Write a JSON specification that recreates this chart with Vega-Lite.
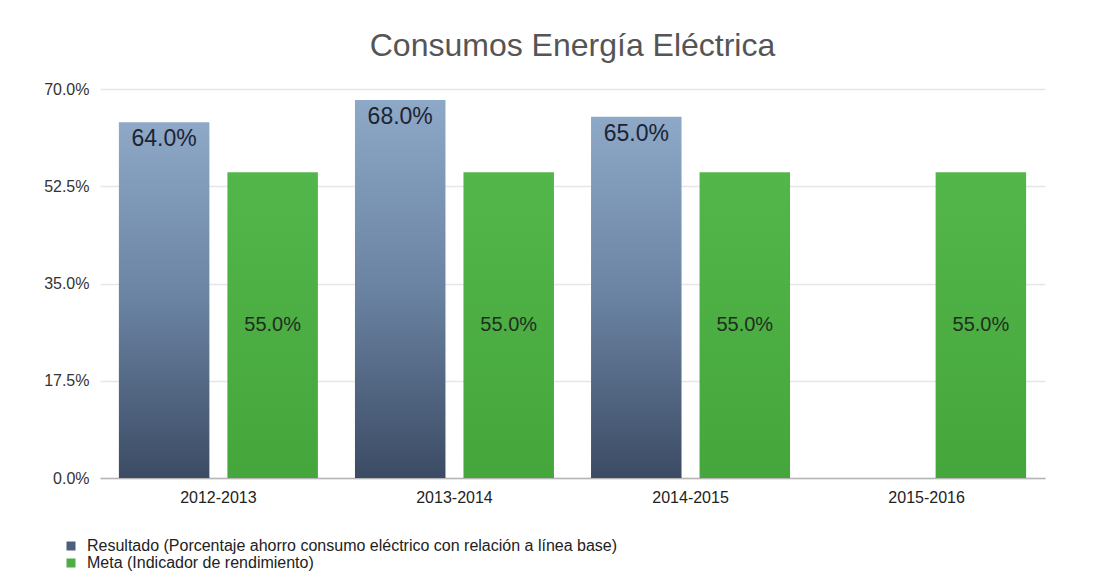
{
  "$schema": "https://vega.github.io/schema/vega-lite/v6.json",
  "width": 945,
  "height": 389,
  "autosize": {"type": "none"},
  "padding": {"left": 100, "top": 89, "right": 66, "bottom": 110},
  "background": "white",
  "title": {
    "text": "Consumos Energía Eléctrica",
    "frame": "group",
    "anchor": "middle",
    "baseline": "alphabetic",
    "offset": -7,
    "fontSize": 32,
    "fontWeight": "normal",
    "font": "Liberation Sans",
    "color": "#555555"
  },
  "data": {
    "values": [
      {"period": "2012-2013", "series": "Resultado (Porcentaje ahorro consumo eléctrico con relación a línea base)", "value": 0.64},
      {"period": "2012-2013", "series": "Meta (Indicador de rendimiento)", "value": 0.55},
      {"period": "2013-2014", "series": "Resultado (Porcentaje ahorro consumo eléctrico con relación a línea base)", "value": 0.68},
      {"period": "2013-2014", "series": "Meta (Indicador de rendimiento)", "value": 0.55},
      {"period": "2014-2015", "series": "Resultado (Porcentaje ahorro consumo eléctrico con relación a línea base)", "value": 0.65},
      {"period": "2014-2015", "series": "Meta (Indicador de rendimiento)", "value": 0.55},
      {"period": "2015-2016", "series": "Meta (Indicador de rendimiento)", "value": 0.55}
    ]
  },
  "encoding": {
    "x": {
      "field": "period",
      "type": "nominal",
      "title": null,
      "scale": {"paddingInner": 0.157, "paddingOuter": 0.08},
      "axis": {
        "labelAngle": 0,
        "ticks": false,
        "labelPadding": 11,
        "labelFontSize": 16,
        "labelColor": "#222222",
        "labelFont": "Liberation Sans",
        "domainColor": "#b5b5b5",
        "domainWidth": 1.5
      }
    },
    "xOffset": {
      "field": "series",
      "type": "nominal",
      "sort": ["Resultado (Porcentaje ahorro consumo eléctrico con relación a línea base)", "Meta (Indicador de rendimiento)"],
      "scale": {"paddingInner": 0.166, "paddingOuter": 0}
    }
  },
  "layer": [
    {
      "mark": {"type": "bar"},
      "encoding": {
        "y": {
          "field": "value",
          "type": "quantitative",
          "title": null,
          "scale": {"domain": [0, 0.7], "nice": false},
          "axis": {
            "values": [0, 0.175, 0.35, 0.525, 0.7],
            "format": ".1%",
            "ticks": false,
            "domain": false,
            "labelPadding": 11,
            "labelFontSize": 16,
            "labelColor": "#333333",
            "labelFont": "Liberation Sans",
            "gridColor": "#e6e6e6",
            "gridWidth": 1.5
          }
        },
        "color": {
          "field": "series",
          "type": "nominal",
          "sort": ["Resultado (Porcentaje ahorro consumo eléctrico con relación a línea base)", "Meta (Indicador de rendimiento)"],
          "scale": {"range": ["#4d5f7c", "#4cae43"]},
          "legend": {
            "title": null,
            "orient": "none",
            "legendX": -37,
            "legendY": 449,
            "direction": "vertical",
            "symbolType": "square",
            "symbolSize": 81,
            "symbolStrokeWidth": 0,
            "labelFontSize": 16,
            "labelFont": "Liberation Sans",
            "labelColor": "#222222",
            "labelLimit": 0,
            "rowPadding": 1,
            "labelOffset": 8
          },
          "condition": [
            {
              "test": "datum.series === 'Meta (Indicador de rendimiento)'",
              "value": {
                "gradient": "linear", "x1": 0, "y1": 0, "x2": 0, "y2": 1,
                "stops": [
                  {"offset": 0, "color": "#53b64a"},
                  {"offset": 1, "color": "#44a63b"}
                ]
              }
            },
            {
              "test": "datum.series !== 'Meta (Indicador de rendimiento)'",
              "value": {
                "gradient": "linear", "x1": 0, "y1": 0, "x2": 0, "y2": 1,
                "stops": [
                  {"offset": 0, "color": "#8ea8c8"},
                  {"offset": 0.5, "color": "#6a83a2"},
                  {"offset": 1, "color": "#3c4b64"}
                ]
              }
            }
          ]
        }
      }
    },
    {
      "transform": [{"filter": "datum.series !== 'Meta (Indicador de rendimiento)'"}],
      "mark": {"type": "text", "baseline": "top", "dy": 6, "fontSize": 23, "font": "Liberation Sans", "color": "#1c2433"},
      "encoding": {
        "y": {"field": "value", "type": "quantitative"},
        "text": {"field": "value", "type": "quantitative", "format": ".1%"}
      }
    },
    {
      "transform": [{"filter": "datum.series === 'Meta (Indicador de rendimiento)'"}],
      "mark": {"type": "text", "baseline": "middle", "fontSize": 20, "font": "Liberation Sans", "color": "#1f2e1f"},
      "encoding": {
        "y": {"datum": 0.275, "type": "quantitative"},
        "text": {"field": "value", "type": "quantitative", "format": ".1%"}
      }
    }
  ],
  "config": {
    "view": {"stroke": null},
    "font": "Liberation Sans"
  }
}
